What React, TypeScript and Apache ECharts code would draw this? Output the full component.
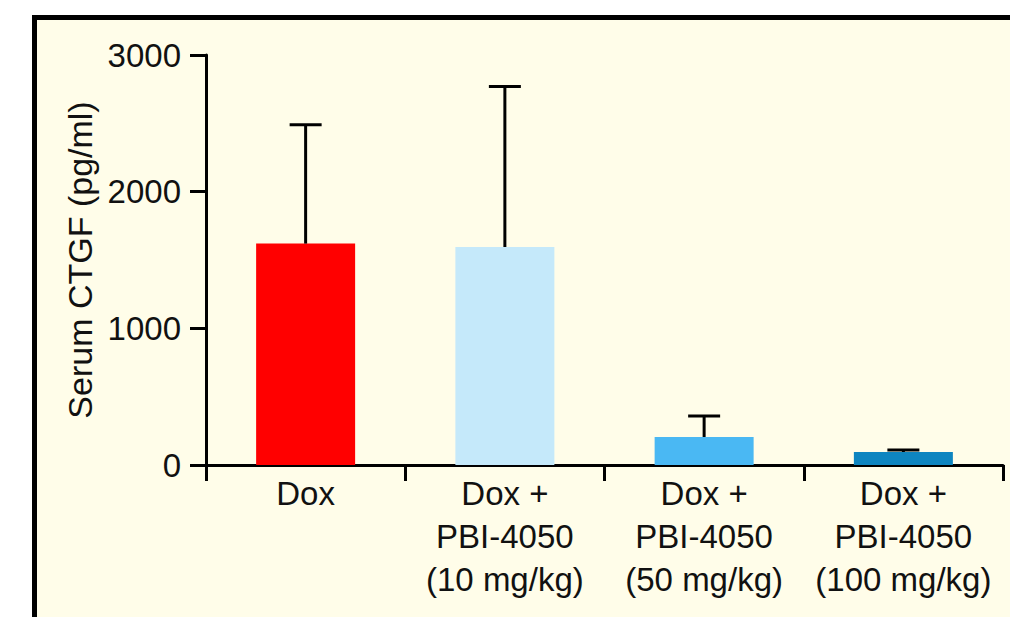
import React, { useEffect, useRef } from "react";
import * as echarts from "echarts";

const categories = [
  "Dox",
  "Dox +\nPBI-4050\n(10 mg/kg)",
  "Dox +\nPBI-4050\n(50 mg/kg)",
  "Dox +\nPBI-4050\n(100 mg/kg)",
];
const means = [1620, 1595, 205, 95];
const errors = [870, 1175, 153, 15];
const barColors = ["#ff0000", "#c5e9fa", "#4ab8f3", "#0e85c0"];
const yTicks = [0, 1000, 2000, 3000];

const FONT = "'Liberation Sans', Arial, sans-serif";

export default function App() {
  const ref = useRef<HTMLDivElement>(null);
  useEffect(() => {
    if (!ref.current) return;
    const chart = echarts.init(ref.current, undefined, { renderer: "svg" });
    const errData = means.map((m, i) => [i, m, m + errors[i]]);
    chart.setOption({
      animation: false,
      backgroundColor: "#ffffff",
      graphic: [
        {
          type: "rect",
          z: -10,
          shape: { x: 34.5, y: 17.5, width: 1100, height: 800 },
          style: { fill: "#fffde9", stroke: "#000000", lineWidth: 5 },
        },
      ],
      grid: { left: 206, right: 7, top: 55, bottom: 152 },
      xAxis: {
        type: "category",
        data: categories,
        boundaryGap: true,
        axisLine: { lineStyle: { color: "#000", width: 3 } },
        axisTick: { show: true, length: 16, lineStyle: { color: "#000", width: 3 } },
        axisLabel: {
          color: "#111",
          fontFamily: FONT,
          fontSize: 33,
          lineHeight: 43,
          margin: 7,
          interval: 0,
        },
      },
      yAxis: {
        type: "value",
        min: 0,
        max: 3000,
        interval: 1000,
        name: "Serum CTGF (pg/ml)",
        nameLocation: "middle",
        nameGap: 98,
        nameTextStyle: { color: "#111", fontFamily: FONT, fontSize: 34 },
        splitLine: { show: false },
        axisLine: { show: true, lineStyle: { color: "#000", width: 3 } },
        axisTick: { show: true, length: 16, lineStyle: { color: "#000", width: 3 } },
        axisLabel: {
          color: "#111",
          fontFamily: FONT,
          fontSize: 33,
          margin: 25,
          formatter: (v: number) => (yTicks.includes(v) ? String(v) : ""),
        },
      },
      series: [
        {
          type: "bar",
          barWidth: 99,
          data: means.map((v, i) => ({ value: v, itemStyle: { color: barColors[i] } })),
          z: 2,
        },
        {
          type: "custom",
          z: 3,
          data: errData,
          renderItem: (params: any, api: any) => {
            const x = api.value(0);
            const lo = api.coord([x, api.value(1)]);
            const hi = api.coord([x, api.value(2)]);
            const half = 16;
            const style = { stroke: "#000", lineWidth: 3 };
            return {
              type: "group",
              children: [
                { type: "line", shape: { x1: lo[0], y1: lo[1], x2: hi[0], y2: hi[1] }, style },
                { type: "line", shape: { x1: hi[0] - half, y1: hi[1], x2: hi[0] + half, y2: hi[1] }, style },
              ],
            };
          },
        },
      ],
    });
    return () => chart.dispose();
  }, []);
  return (
    <div
      ref={ref}
      style={{ position: "absolute", left: 0, top: 0, width: 1010, height: 617 }}
    />
  );
}
